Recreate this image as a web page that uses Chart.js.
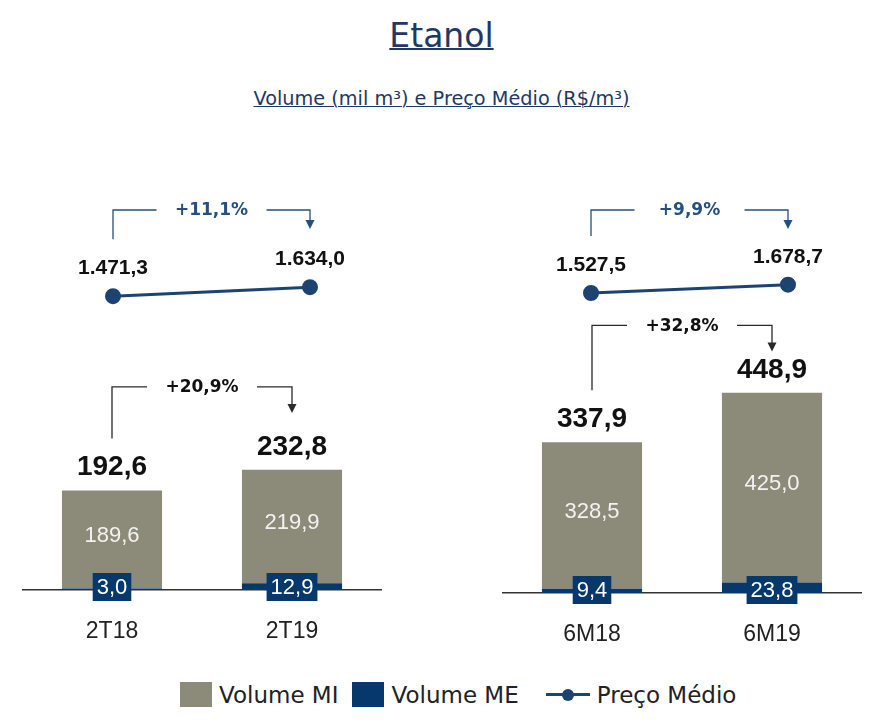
<!DOCTYPE html>
<html lang="pt-BR">
<head>
<meta charset="utf-8">
<title>Etanol</title>
<script src="https://cdn.jsdelivr.net/npm/chart.js@4.4.1/dist/chart.umd.min.js"></script>
<style>
  html, body { margin: 0; padding: 0; background: #fff; }
  #pagina { position: relative; width: 875px; height: 728px; overflow: hidden; font-family: "DejaVu Sans", sans-serif; }
  canvas { position: absolute; }
  .titulo { position: absolute; left: 4px; width: 875px; text-align: center; color: #1f3864; text-decoration: underline; white-space: nowrap; }
  #titulo { top: 19px; font-size: 33px; line-height: 33px; text-decoration-thickness: 2px; }
  #subtitulo { top: 89px; font-size: 19.3px; line-height: 19px; text-decoration-thickness: 1px; }
  #legenda { position: absolute; top: 682px; left: 180px; height: 25px; display: flex; align-items: center; font-size: 23px; color: #222; }
  .item { display: flex; align-items: center; }
  .caixa { width: 32px; height: 25px; margin-right: 7px; }
  .linha { position: relative; width: 44px; height: 25px; margin-right: 7px; }
  .linha::before { content: ""; position: absolute; left: 0; right: 0; top: 11px; height: 3px; background: var(--cor); }
  .linha::after { content: ""; position: absolute; left: 16px; top: 6.5px; width: 12px; height: 12px; border-radius: 50%; background: var(--cor); }
</style>
</head>
<body>
<div id="pagina">
  <div id="titulo" class="titulo">Etanol</div>
  <div id="subtitulo" class="titulo">Volume (mil m³) e Preço Médio (R$/m³)</div>

  <canvas id="precoTri" width="317" height="140" style="left:53px; top:180px;"></canvas>
  <canvas id="precoSem" width="317" height="140" style="left:531px; top:180px;"></canvas>
  <canvas id="volumeTri" width="360" height="520" style="left:22px; top:130px;"></canvas>
  <canvas id="volumeSem" width="360" height="520" style="left:502px; top:132.5px;"></canvas>

  <div id="legenda"></div>
</div>

<script>
// dados - trimestre
const periodosTri = ['2T18', '2T19'];
const volumeMiTri = [189.6, 219.9];
const volumeMeTri = [3.0, 12.9];
const volumeTotalTri = [192.6, 232.8];
const precoTri = [1471.3, 1634.0];
const varVolumeTri = '+20,9%';
const varPrecoTri = '+11,1%';

// dados - semestre
const periodosSem = ['6M18', '6M19'];
const volumeMiSem = [328.5, 425.0];
const volumeMeSem = [9.4, 23.8];
const volumeTotalSem = [337.9, 448.9];
const precoSem = [1527.5, 1678.7];
const varVolumeSem = '+32,8%';
const varPrecoSem = '+9,9%';

const COR_MI = '#8c8b79';
const COR_ME = '#06386c';
const COR_PRECO = '#1d4371';
const COR_CHAVE_PRECO = '#24507f';

Chart.defaults.font.family = '"Liberation Sans", sans-serif';

function formata(v) {
  const [inteiro, dec] = v.toFixed(1).split('.');
  return inteiro.replace(/\B(?=(\d{3})+(?!\d))/g, '.') + ',' + dec;
}

// chave com seta: sobe em xa, atravessa com o texto no meio, desce com seta em xb
function desenhaChave(ctx, xa, ya, xb, yTopo, ponta, texto, cor, corTexto) {
  const meio = (xa + xb) / 2;
  const folga = 55;
  ctx.save();
  ctx.strokeStyle = cor;
  ctx.fillStyle = cor;
  ctx.lineWidth = 1.3;
  ctx.beginPath();
  ctx.moveTo(xa, ya);
  ctx.lineTo(xa, yTopo);
  ctx.lineTo(meio - folga, yTopo);
  ctx.moveTo(meio + folga, yTopo);
  ctx.lineTo(xb, yTopo);
  ctx.lineTo(xb, yTopo + ponta - 8);
  ctx.stroke();
  ctx.beginPath();
  ctx.moveTo(xb - 4.5, yTopo + ponta - 9);
  ctx.lineTo(xb + 4.5, yTopo + ponta - 9);
  ctx.lineTo(xb, yTopo + ponta);
  ctx.closePath();
  ctx.fill();
  ctx.font = 'bold 17px "DejaVu Sans"';
  ctx.fillStyle = corTexto;
  ctx.textAlign = 'center';
  ctx.textBaseline = 'middle';
  ctx.fillText(texto, meio, yTopo + 1);
  ctx.restore();
}

const rotulosVolume = {
  id: 'rotulosVolume',
  afterDatasetsDraw(chart, args, opts) {
    const { ctx } = chart;
    const base = chart.scales.x.top;
    const barrasMe = chart.getDatasetMeta(0).data;
    const barrasMi = chart.getDatasetMeta(1).data;
    const valoresMe = chart.data.datasets[0].data;
    const valoresMi = chart.data.datasets[1].data;

    ctx.save();
    ctx.textAlign = 'center';
    barrasMi.forEach((barra, i) => {
      ctx.font = '22px "Liberation Sans"';
      ctx.textBaseline = 'middle';
      ctx.fillStyle = '#f2f2f2';
      ctx.fillText(formata(valoresMi[i]), barra.x, (barra.y + barra.base) / 2 - 4);

      const textoMe = formata(valoresMe[i]);
      const larg = ctx.measureText(textoMe).width + 8;
      const x = barrasMe[i].x;
      ctx.fillStyle = COR_ME;
      ctx.fillRect(x - larg / 2, base - 3 - 14, larg, 28);
      ctx.fillStyle = '#ffffff';
      ctx.fillText(textoMe, x, base - 2);

      ctx.font = 'bold 28px "Liberation Sans"';
      ctx.textBaseline = 'alphabetic';
      ctx.fillStyle = '#111';
      ctx.fillText(formata(opts.totais[i]), barra.x, barra.y - 15);
    });
    ctx.restore();

    const yTopo = chart.scales.y.getPixelForValue(opts.nivel);
    desenhaChave(ctx, barrasMi[0].x, barrasMi[0].y - 52, barrasMi[1].x, yTopo, 26,
      opts.variacao, '#2a2a2a', '#111');
  },
};

const rotulosPreco = {
  id: 'rotulosPreco',
  afterDatasetsDraw(chart, args, opts) {
    const { ctx } = chart;
    const pontos = chart.getDatasetMeta(0).data;
    const valores = chart.data.datasets[0].data;
    ctx.save();
    ctx.font = 'bold 21px "Liberation Sans"';
    ctx.fillStyle = '#111';
    ctx.textAlign = 'center';
    ctx.textBaseline = 'alphabetic';
    pontos.forEach((p, i) => ctx.fillText(formata(valores[i]), p.x, p.y - 22));
    ctx.restore();
    desenhaChave(ctx, pontos[0].x, pontos[0].y - 57, pontos[1].x, opts.topo, 19,
      opts.variacao, COR_CHAVE_PRECO, COR_CHAVE_PRECO);
  },
};

function graficoVolume(id, periodos, mi, me, totais, variacao, yMax, nivel) {
  return new Chart(document.getElementById(id), {
    type: 'bar',
    data: {
      labels: periodos,
      datasets: [
        { label: 'Volume ME', data: me, backgroundColor: COR_ME },
        { label: 'Volume MI', data: mi, backgroundColor: COR_MI },
      ],
    },
    options: {
      responsive: false,
      animation: false,
      layout: { padding: { top: 10, bottom: 4 }, autoPadding: false },
      datasets: { bar: { categoryPercentage: 1, barPercentage: 0.556 } },
      scales: {
        x: {
          stacked: true,
          grid: { display: false, drawTicks: false },
          border: { color: '#333', width: 1.5 },
          ticks: { color: '#222', font: { size: 23 }, padding: 28, maxRotation: 0 },
          afterFit(scale) { scale.height = 56; },
        },
        y: { stacked: true, display: false, min: 0, max: yMax },
      },
      plugins: {
        legend: { display: false },
        tooltip: { enabled: false },
        rotulosVolume: { totais, variacao, nivel },
      },
    },
    plugins: [rotulosVolume],
  });
}

function graficoPreco(id, periodos, precos, variacao) {
  return new Chart(document.getElementById(id), {
    type: 'line',
    data: {
      labels: periodos,
      datasets: [{
        label: 'Preço Médio',
        data: precos,
        borderColor: COR_PRECO,
        backgroundColor: COR_PRECO,
        pointBackgroundColor: COR_PRECO,
        pointBorderColor: COR_PRECO,
        borderWidth: 3,
        pointRadius: 6.5,
        clip: false,
      }],
    },
    options: {
      responsive: false,
      animation: false,
      layout: { padding: { left: 60, right: 60 }, autoPadding: false },
      scales: {
        x: { display: false },
        y: { display: false, min: 1040, max: 3570 },
      },
      plugins: {
        legend: { display: false },
        tooltip: { enabled: false },
        rotulosPreco: { variacao, topo: 30 },
      },
    },
    plugins: [rotulosPreco],
  });
}

const volTri = graficoVolume('volumeTri', periodosTri, volumeMiTri, volumeMeTri, volumeTotalTri, varVolumeTri, 871, 393);
graficoVolume('volumeSem', periodosSem, volumeMiSem, volumeMeSem, volumeTotalSem, varVolumeSem, 1009, 600);
const precTri = graficoPreco('precoTri', periodosTri, precoTri, varPrecoTri);
graficoPreco('precoSem', periodosSem, precoSem, varPrecoSem);

// legenda montada a partir das séries
const legenda = document.getElementById('legenda');
const itens = [
  { ds: volTri.data.datasets[1], tipo: 'caixa', margem: 14 },
  { ds: volTri.data.datasets[0], tipo: 'caixa', margem: 27 },
  { ds: precTri.data.datasets[0], tipo: 'linha', margem: 0 },
];
itens.forEach(({ ds, tipo, margem }) => {
  const item = document.createElement('div');
  item.className = 'item';
  item.style.marginRight = margem + 'px';
  const simbolo = document.createElement('span');
  simbolo.className = tipo;
  if (tipo === 'caixa') simbolo.style.background = ds.backgroundColor;
  else simbolo.style.setProperty('--cor', ds.borderColor);
  const texto = document.createElement('span');
  texto.textContent = ds.label;
  item.append(simbolo, texto);
  legenda.append(item);
});
</script>
</body>
</html>
